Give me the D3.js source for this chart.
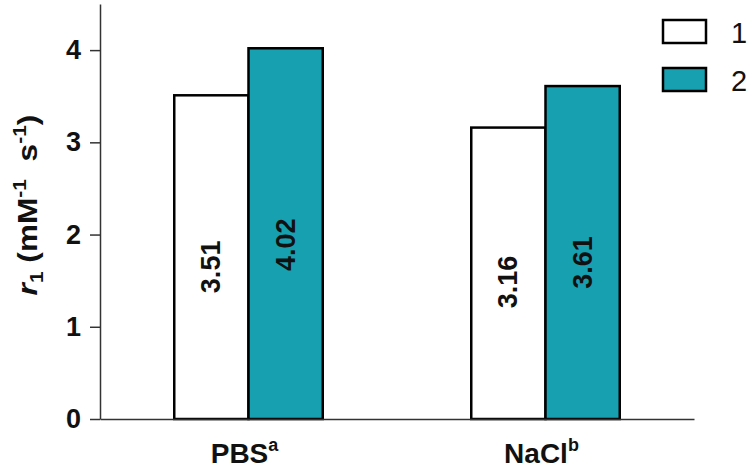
<!DOCTYPE html>
<html>
<head>
<meta charset="utf-8">
<script src="https://cdn.jsdelivr.net/npm/d3@7"></script>
<style>
  body { margin: 0; background: #fff; }
  text { font-family: "Liberation Sans", Arial, sans-serif; }
</style>
</head>
<body>
<script>
// data
var groups = ["PBS", "NaCl"];
var groupSups = ["a", "b"];
var series = ["1", "2"];
var values1 = [3.51, 3.16];
var values2 = [4.02, 3.61];
var yTicks = [0, 1, 2, 3, 4];

var colors = { "1": "#ffffff", "2": "#17a0b0" };

var width = 750, height = 468;
var x0Left = 100, x0Right = 694, yBottom = 419, yTop = 4;

var svg = d3.select("body").append("svg")
    .attr("width", width)
    .attr("height", height);

var x0 = d3.scaleBand()
    .domain(groups)
    .range([x0Left, x0Right])
    .paddingInner(0.5)
    .paddingOuter(0.25);

var x1 = d3.scaleBand()
    .domain(series)
    .range([0, x0.bandwidth()]);

var y = d3.scaleLinear()
    .domain([0, 4.5])
    .range([yBottom, yTop]);

// build rows for the bars
var rows = [];
groups.forEach(function(g, i) {
  rows.push({ group: g, s: "1", value: values1[i] });
  rows.push({ group: g, s: "2", value: values2[i] });
});

// y axis
var yAxis = d3.axisLeft(y)
    .tickValues(yTicks)
    .tickFormat(d3.format("d"))
    .tickSize(10)
    .tickSizeOuter(0)
    .tickPadding(9);

var gy = svg.append("g")
    .attr("transform", "translate(" + x0Left + ",0)")
    .call(yAxis);
gy.select(".domain").attr("stroke", "#333").attr("stroke-width", 1.5);
gy.selectAll(".tick line").attr("stroke", "#333").attr("stroke-width", 1.5);
gy.selectAll(".tick text")
    .attr("fill", "#111")
    .style("font-size", "27px")
    .style("font-weight", "bold");

// bars
svg.selectAll(".bar")
    .data(rows)
    .enter().append("rect")
    .attr("class", "bar")
    .attr("x", function(d) { return x0(d.group) + x1(d.s); })
    .attr("y", function(d) { return y(d.value); })
    .attr("width", x1.bandwidth())
    .attr("height", function(d) { return y(0) - y(d.value); })
    .attr("fill", function(d) { return colors[d.s]; })
    .attr("stroke", "#000")
    .attr("stroke-width", 2.5);

// value labels inside bars, rotated
svg.selectAll(".val")
    .data(rows)
    .enter().append("text")
    .attr("class", "val")
    .attr("transform", function(d) {
      var cx = x0(d.group) + x1(d.s) + x1.bandwidth() / 2;
      var cy = y(d.value * 0.47);
      return "translate(" + cx + "," + cy + ") rotate(-90)";
    })
    .attr("text-anchor", "middle")
    .attr("dominant-baseline", "central")
    .style("font-size", "27px")
    .style("font-weight", "bold")
    .attr("fill", "#111")
    .text(function(d) { return d.value.toFixed(2); });

// x axis line
var xAxis = d3.axisBottom(x0).tickSize(0).tickSizeOuter(0).tickFormat("");
var gx = svg.append("g")
    .attr("transform", "translate(0," + yBottom + ")")
    .call(xAxis);
gx.select(".domain").attr("stroke", "#333").attr("stroke-width", 1.5);

// category labels with superscripts
var cats = svg.selectAll(".cat")
    .data(groups)
    .enter().append("text")
    .attr("class", "cat")
    .attr("x", function(d) { return x0(d) + x0.bandwidth() / 2 - 4; })
    .attr("y", 463)
    .attr("text-anchor", "middle")
    .style("font-size", "28px")
    .style("font-weight", "bold")
    .attr("fill", "#111");
cats.append("tspan").text(function(d) { return d; });
cats.append("tspan")
    .attr("dy", -12)
    .style("font-size", "18px")
    .text(function(d, i) { return groupSups[i]; });

// y axis title (stretched a little along its length like the original)
var yt = svg.append("text")
    .attr("transform", "translate(37,205) rotate(-90) scale(1.17,1)")
    .attr("text-anchor", "middle")
    .style("font-size", "27px")
    .style("font-weight", "bold")
    .attr("fill", "#111");
yt.append("tspan").style("font-style", "italic").text("r");
yt.append("tspan").attr("dy", 6).style("font-size", "18px").text("1");
yt.append("tspan").attr("dy", -6).text("\u00a0(mM");
yt.append("tspan").attr("dy", -11).style("font-size", "18px").text("-1");
yt.append("tspan").attr("dy", 11).text("\u00a0\u00a0s");
yt.append("tspan").attr("dy", -11).style("font-size", "18px").text("-1");
yt.append("tspan").attr("dy", 11).text(")");

// legend
var legend = svg.selectAll(".legend")
    .data(series)
    .enter().append("g")
    .attr("class", "legend")
    .attr("transform", function(d, i) { return "translate(663," + (20 + i * 48) + ")"; });
legend.append("rect")
    .attr("width", 43)
    .attr("height", 23)
    .attr("fill", function(d) { return colors[d]; })
    .attr("stroke", "#000")
    .attr("stroke-width", 2.5);
legend.append("text")
    .attr("x", 68)
    .attr("y", 23)
    .style("font-size", "29px")
    .attr("fill", "#111")
    .text(function(d) { return d; });
</script>
</body>
</html>
